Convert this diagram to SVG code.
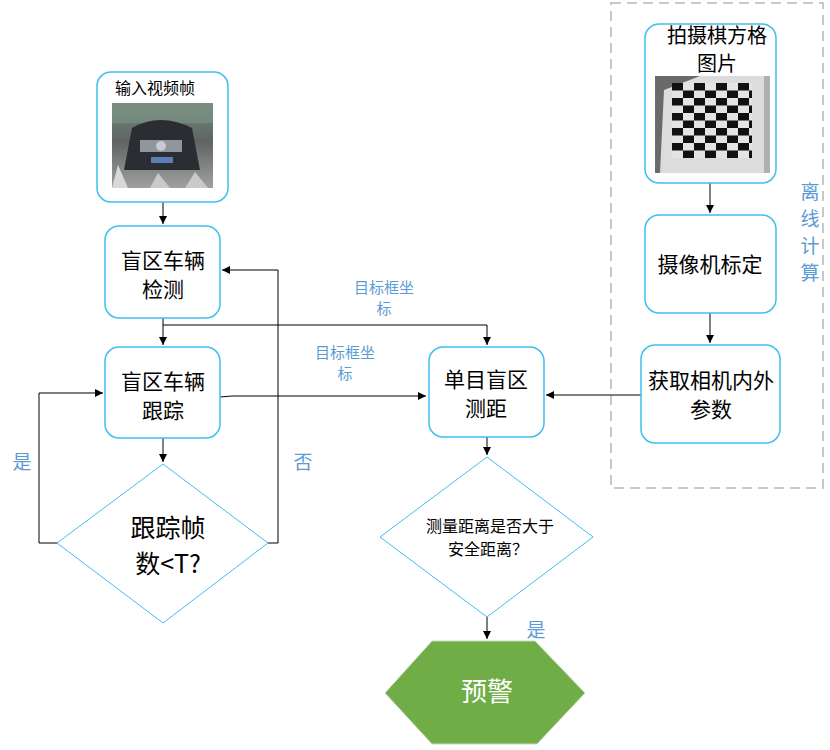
<svg xmlns="http://www.w3.org/2000/svg" width="830" height="750" viewBox="0 0 830 750">
<style>
.node{fill:#fff;stroke:#3EC0EF;stroke-width:1.5}
.dia{fill:#fff;stroke:#3EC0EF;stroke-width:1}
.t{font-family:"Noto Sans CJK SC","Liberation Sans",sans-serif;fill:#000;text-anchor:middle}
.lb{font-family:"Noto Sans CJK SC","Liberation Sans",sans-serif;fill:#5B9BD5;text-anchor:middle}
.c{fill:none;stroke:#000;stroke-width:1}
</style>
<defs>
<marker id="ah" markerWidth="10" markerHeight="10" refX="8" refY="4" orient="auto" markerUnits="userSpaceOnUse">
<path d="M0,0 L8,4 L0,8 z" fill="#000"/>
</marker>
<pattern id="chk" x="672" y="83" width="22" height="15" patternUnits="userSpaceOnUse">
<rect width="22" height="15" fill="#e4e4e4"/>
<rect width="11" height="7.5" fill="#111"/>
<rect x="11" y="7.5" width="11" height="7.5" fill="#111"/>
</pattern>
<linearGradient id="road" x1="0" y1="0" x2="0" y2="1">
<stop offset="0" stop-color="#6f8a7c"/>
<stop offset="0.45" stop-color="#5f6462"/>
<stop offset="1" stop-color="#9ea1a0"/>
</linearGradient>
</defs>

<rect x="611" y="3" width="212" height="485" fill="none" stroke="#c8c8c8" stroke-width="2" stroke-dasharray="10,6"/>
<text class="lb" font-size="19"><tspan x="810" y="199">离</tspan><tspan x="810" y="226">线</tspan><tspan x="810" y="253">计</tspan><tspan x="810" y="280">算</tspan></text>

<g id="connectors">
<line class="c" x1="163" y1="202" x2="163" y2="224" marker-end="url(#ah)"/>
<line class="c" x1="163" y1="318" x2="163" y2="345" marker-end="url(#ah)"/>
<polyline class="c" points="163,325 487,325 487,345" marker-end="url(#ah)"/>
<line class="c" x1="163" y1="438" x2="163" y2="462" marker-end="url(#ah)"/>
<polyline class="c" points="57,543 39,543 39,393 103,393" marker-end="url(#ah)"/>
<polyline class="c" points="268,543 278,543 278,270 222,270" marker-end="url(#ah)"/>
<polyline class="c" points="220,397 232,396 426,396" marker-end="url(#ah)"/>
<line class="c" x1="487" y1="437" x2="487" y2="455" marker-end="url(#ah)"/>
<line class="c" x1="487" y1="617" x2="487" y2="639" marker-end="url(#ah)"/>
<line class="c" x1="710" y1="183" x2="710" y2="213" marker-end="url(#ah)"/>
<line class="c" x1="710" y1="313" x2="710" y2="343" marker-end="url(#ah)"/>
<line class="c" x1="641" y1="395" x2="546" y2="395" stroke="#444" stroke-width="1.5" marker-end="url(#ah)"/>
<text class="lb" font-size="15"><tspan x="384" y="293">目标框坐</tspan><tspan x="384" y="314">标</tspan></text>
<text class="lb" font-size="15"><tspan x="345" y="358">目标框坐</tspan><tspan x="345" y="379">标</tspan></text>
<text class="lb" font-size="19" x="22" y="469">是</text>
<text class="lb" font-size="19" x="303" y="469">否</text>
<text class="lb" font-size="19" x="536" y="637">是</text>
</g>

<g id="input">
<rect class="node" x="97" y="72" width="131" height="130" rx="14"/>
<text class="t" font-size="16" x="155" y="94">输入视频帧</text>
<rect x="112" y="103" width="101" height="85" fill="url(#road)"/>
<rect x="112" y="103" width="101" height="20" fill="#7d9486" opacity="0.6"/>
<path d="M124,170 L132,128 Q160,112 192,128 L200,170 Z" fill="#2b2d33"/>
<rect x="140" y="140" width="42" height="12" fill="#8f969c"/>
<circle cx="161" cy="146" r="5" fill="#c8cbd0"/>
<rect x="151" y="157" width="22" height="6" fill="#5b7fb5"/>
<path d="M112,188 L118,165 L128,188 Z" fill="#d9d9d9"/>
<path d="M150,188 L158,173 L170,188 Z" fill="#c9c9c9"/>
<path d="M185,188 L195,172 L208,188 Z" fill="#c9c9c9"/>
</g>

<g id="detect">
<rect class="node" x="105" y="226" width="115" height="92" rx="14"/>
<text class="t" font-size="21"><tspan x="163" y="268">盲区车辆</tspan><tspan x="163" y="297">检测</tspan></text>
</g>

<g id="track">
<rect class="node" x="105" y="347" width="115" height="91" rx="14"/>
<text class="t" font-size="21"><tspan x="163" y="389">盲区车辆</tspan><tspan x="163" y="418">跟踪</tspan></text>
</g>

<g id="decide-frames">
<polygon class="dia" points="163,464 268,543 163,623 57,543"/>
<text class="t" font-size="25"><tspan x="168" y="537">跟踪帧</tspan><tspan x="168" y="573">数&lt;T?</tspan></text>
</g>

<g id="ranging">
<rect class="node" x="429" y="347" width="115" height="90" rx="14"/>
<text class="t" font-size="21"><tspan x="486" y="387">单目盲区</tspan><tspan x="486" y="416">测距</tspan></text>
</g>

<g id="decide-dist">
<polygon class="dia" points="487,457 593,537 487,617 380,537"/>
<text class="t" font-size="16"><tspan x="490" y="532">测量距离是否大于</tspan><tspan x="488" y="555">安全距离？</tspan></text>
</g>

<g id="warn">
<polygon points="432,641 535,641 585,693 537,744 432,744 385,693" fill="#70AD47" stroke="#c8d8c0" stroke-width="1"/>
<text x="487" y="701" font-size="26" fill="#fff" text-anchor="middle" font-family="Noto Sans CJK SC,Liberation Sans,sans-serif">预警</text>
</g>

<g id="chess">
<rect class="node" x="645" y="24" width="131" height="159" rx="14"/>
<text class="t" font-size="20"><tspan x="717" y="43">拍摄棋方格</tspan><tspan x="717" y="71">图片</tspan></text>
<rect x="655" y="76" width="115" height="97" fill="#dcdcdc"/>
<path d="M655,76 L700,76 L664,90 L660,173 L655,173 Z" fill="#6a6a6a"/>
<rect x="764" y="76" width="6" height="97" fill="#b0b0b0"/>
<rect x="672" y="83" width="80" height="75" fill="url(#chk)"/>
</g>

<g id="calib">
<rect class="node" x="645" y="215" width="131" height="98" rx="14"/>
<text class="t" font-size="21" x="710" y="272">摄像机标定</text>
</g>

<g id="params">
<rect class="node" x="641" y="345" width="139" height="98" rx="14"/>
<text class="t" font-size="21"><tspan x="711" y="388">获取相机内外</tspan><tspan x="711" y="417">参数</tspan></text>
</g>
</svg>
